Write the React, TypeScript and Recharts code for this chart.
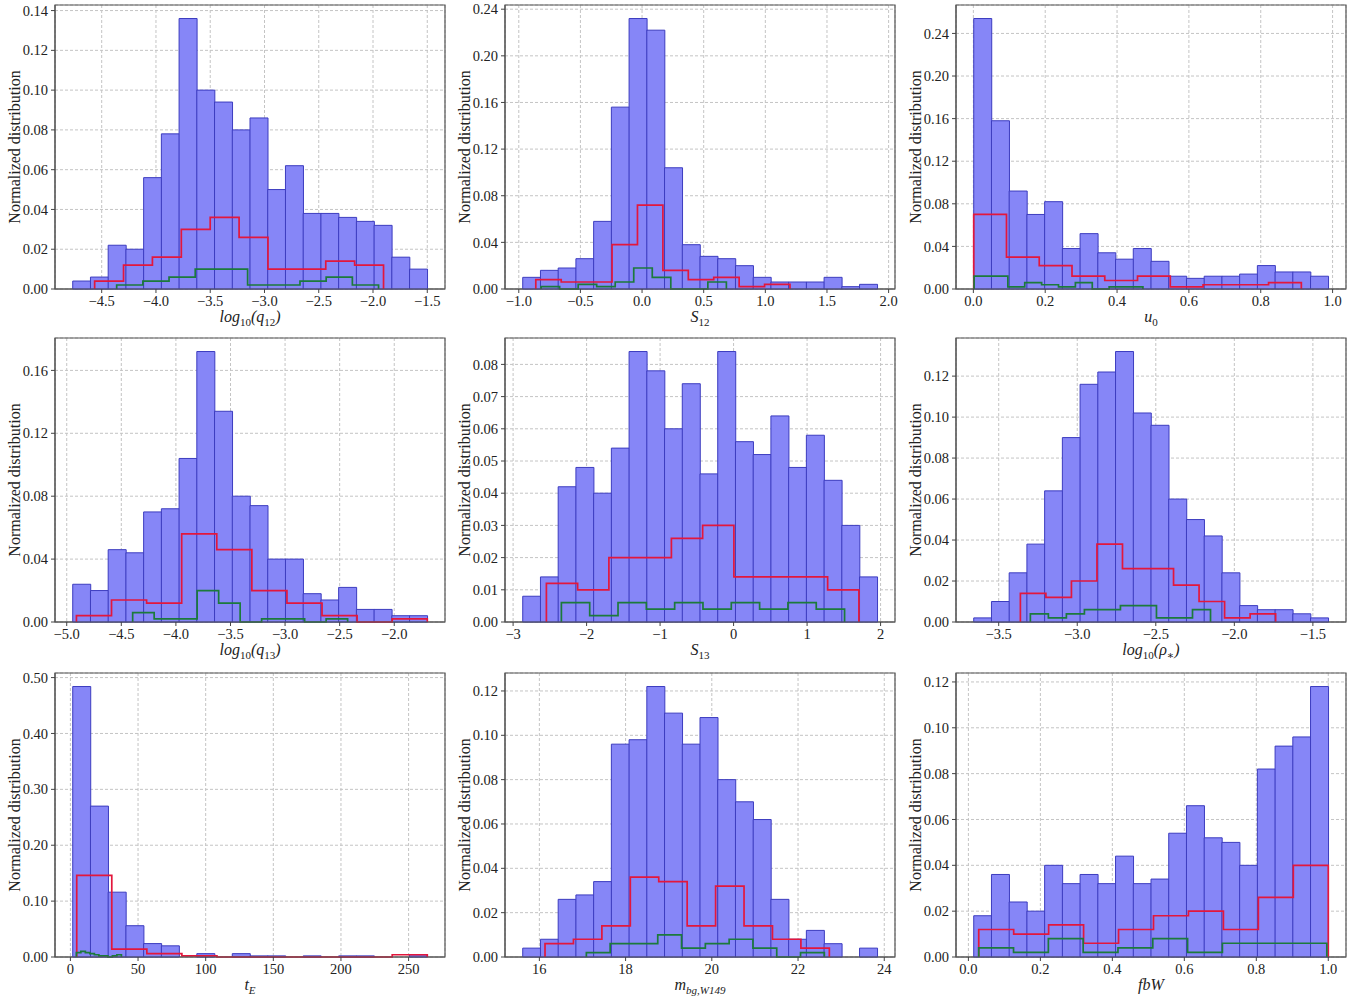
import { ComposedChart, Bar, Line, XAxis, YAxis, CartesianGrid, ReferenceArea } from 'recharts'

const SERIF = "'Liberation Serif', 'DejaVu Serif', serif"

// each histogram: bar heights + [first edge, last edge] of its bins
const q12All = [0.004, 0.006, 0.022, 0.02, 0.056, 0.078, 0.136, 0.1, 0.094, 0.08, 0.086, 0.05, 0.062, 0.038, 0.038, 0.036, 0.034, 0.032, 0.016, 0.01]
const q12AllRange = [-4.767, -1.5]
const q12Red = [0.004, 0.012, 0.016, 0.03, 0.036, 0.026, 0.01, 0.01, 0.014, 0.012]
const q12RedRange = [-4.565, -1.903]
const q12Green = [0.002, 0.004, 0.006, 0.01, 0.01, 0.002, 0.002, 0.004, 0.006, 0.002]
const q12GreenRange = [-4.362, -1.949]
const q12XTicks = [-4.5, -4.0, -3.5, -3.0, -2.5, -2.0, -1.5]
const q12YTicks = [0, 0.02, 0.04, 0.06, 0.08, 0.1, 0.12, 0.14]

const s12All = [0.01, 0.016, 0.018, 0.026, 0.058, 0.156, 0.232, 0.222, 0.104, 0.038, 0.028, 0.026, 0.02, 0.01, 0.006, 0.006, 0.006, 0.01, 0.002, 0.004]
const s12AllRange = [-0.968, 1.908]
const s12Red = [0.008, 0.006, 0.006, 0.038, 0.072, 0.016, 0.008, 0.01, 0.002, 0.004]
const s12RedRange = [-0.862, 1.2]
const s12Green = [0.002, 0, 0.004, 0.002, 0.006, 0.018, 0.01, 0, 0, 0.006]
const s12GreenRange = [-0.819, 0.684]
const s12XTicks = [-1.0, -0.5, 0.0, 0.5, 1.0, 1.5, 2.0]
const s12YTicks = [0, 0.04, 0.08, 0.12, 0.16, 0.2, 0.24]

const u0All = [0.254, 0.158, 0.092, 0.07, 0.082, 0.038, 0.052, 0.034, 0.028, 0.038, 0.026, 0.012, 0.01, 0.012, 0.012, 0.014, 0.022, 0.016, 0.016, 0.012]
const u0AllRange = [0.001, 0.988]
const u0Red = [0.07, 0.03, 0.022, 0.012, 0.008, 0.012, 0.002, 0.004, 0.004, 0.006]
const u0RedRange = [0.001, 0.913]
const u0Green = [0.012, 0.012, 0.002, 0.006, 0.004, 0.002, 0.006, 0, 0.002, 0.002]
const u0GreenRange = [0.002, 0.472]
const u0XTicks = [0.0, 0.2, 0.4, 0.6, 0.8, 1.0]
const u0YTicks = [0, 0.04, 0.08, 0.12, 0.16, 0.2, 0.24]

const q13All = [0.024, 0.02, 0.046, 0.044, 0.07, 0.072, 0.104, 0.172, 0.134, 0.08, 0.074, 0.04, 0.04, 0.018, 0.014, 0.022, 0.008, 0.008, 0.004, 0.004]
const q13AllRange = [-4.945, -1.6975]
const q13Red = [0.004, 0.014, 0.012, 0.056, 0.046, 0.02, 0.012, 0.004, 0, 0.002]
const q13RedRange = [-4.911, -1.6975]
const q13Green = [0.006, 0.002, 0.002, 0.02, 0.012, 0, 0.002, 0.002, 0, 0.002]
const q13GreenRange = [-4.396, -2.427]
const q13XTicks = [-5.0, -4.5, -4.0, -3.5, -3.0, -2.5, -2.0]
const q13YTicks = [0, 0.04, 0.08, 0.12, 0.16]

const s13All = [0.008, 0.014, 0.042, 0.048, 0.04, 0.054, 0.084, 0.078, 0.06, 0.074, 0.046, 0.084, 0.056, 0.052, 0.064, 0.048, 0.058, 0.044, 0.03, 0.014]
const s13AllRange = [-2.869, 1.955]
const s13Red = [0.012, 0.01, 0.02, 0.02, 0.026, 0.03, 0.014, 0.014, 0.014, 0.01]
const s13RedRange = [-2.547, 1.705]
const s13Green = [0.006, 0.002, 0.006, 0.004, 0.006, 0.004, 0.006, 0.004, 0.006, 0.004]
const s13GreenRange = [-2.343, 1.51]
const s13XTicks = [-3, -2, -1, 0, 1, 2]
const s13YTicks = [0, 0.01, 0.02, 0.03, 0.04, 0.05, 0.06, 0.07, 0.08]

const rhoAll = [0.002, 0.01, 0.024, 0.038, 0.064, 0.09, 0.116, 0.122, 0.132, 0.102, 0.096, 0.06, 0.05, 0.042, 0.024, 0.008, 0.006, 0.006, 0.004, 0.002]
const rhoAllRange = [-3.659, -1.402]
const rhoRed = [0.014, 0.012, 0.02, 0.038, 0.026, 0.026, 0.018, 0.01, 0.002, 0.004]
const rhoRedRange = [-3.362, -1.737]
const rhoGreen = [0.004, 0.002, 0.004, 0.006, 0.006, 0.008, 0.008, 0.002, 0.002, 0.006]
const rhoGreenRange = [-3.2985, -2.1516]
const rhoXTicks = [-3.5, -3.0, -2.5, -2.0, -1.5]
const rhoYTicks = [0, 0.02, 0.04, 0.06, 0.08, 0.1, 0.12]

const tEAll = [0.484, 0.27, 0.116, 0.056, 0.024, 0.02, 0, 0.006, 0, 0.006, 0.002, 0.002, 0, 0.002, 0, 0.002, 0.002, 0, 0, 0.004]
const tEAllRange = [1.72, 263.8]
const tERed = [0.146, 0.014, 0.006, 0.002, 0, 0, 0, 0, 0, 0.004]
const tERedRange = [4.68, 263.8]
const tEGreen = [0.008, 0.01, 0.008, 0.006, 0.004, 0.002, 0.002, 0, 0.002, 0.004]
const tEGreenRange = [4.4, 37.7]
const tEXTicks = [0, 50, 100, 150, 200, 250]
const tEYTicks = [0, 0.1, 0.2, 0.3, 0.4, 0.5]

const mbgAll = [0.004, 0.008, 0.026, 0.028, 0.034, 0.096, 0.098, 0.122, 0.11, 0.096, 0.108, 0.08, 0.07, 0.062, 0.026, 0.008, 0.012, 0.006, 0, 0.004]
const mbgAllRange = [15.614, 23.838]
const mbgRed = [0.006, 0.008, 0.014, 0.036, 0.034, 0.014, 0.032, 0.014, 0.008, 0.004]
const mbgRedRange = [16.131, 22.726]
const mbgGreen = [0.002, 0.006, 0.006, 0.01, 0.004, 0.006, 0.008, 0.004, 0, 0.002]
const mbgGreenRange = [17.09, 22.61]
const mbgXTicks = [16, 18, 20, 22, 24]
const mbgYTicks = [0, 0.02, 0.04, 0.06, 0.08, 0.1, 0.12]

const fbwAll = [0.018, 0.036, 0.024, 0.02, 0.04, 0.032, 0.036, 0.032, 0.044, 0.032, 0.034, 0.054, 0.066, 0.052, 0.05, 0.04, 0.082, 0.092, 0.096, 0.118]
const fbwAllRange = [0.0148, 1.0]
const fbwRed = [0.012, 0.01, 0.014, 0.006, 0.012, 0.018, 0.02, 0.012, 0.026, 0.04]
const fbwRedRange = [0.0287, 1.0]
const fbwGreen = [0.004, 0.002, 0.008, 0.002, 0.004, 0.008, 0.002, 0.006, 0.006, 0.006]
const fbwGreenRange = [0.0287, 0.996]
const fbwXTicks = [0.0, 0.2, 0.4, 0.6, 0.8, 1.0]
const fbwYTicks = [0, 0.02, 0.04, 0.06, 0.08, 0.1, 0.12]

// axis titles: [text, style] with i = italic, s = subscript, si = italic subscript
type Part = [string, string]
const q12Label: Part[] = [['log', 'i'], ['10', 's'], ['(', 'i'], ['q', 'i'], ['12', 's'], [')', 'i']]
const s12Label: Part[] = [['S', 'i'], ['12', 's']]
const u0Label: Part[] = [['u', 'i'], ['0', 's']]
const q13Label: Part[] = [['log', 'i'], ['10', 's'], ['(', 'i'], ['q', 'i'], ['13', 's'], [')', 'i']]
const s13Label: Part[] = [['S', 'i'], ['13', 's']]
const rhoLabel: Part[] = [['log', 'i'], ['10', 's'], ['(ρ', 'i'], ['∗', 's'], [')', 'i']]
const tELabel: Part[] = [['t', 'i'], ['E', 'si']]
const mbgLabel: Part[] = [['m', 'i'], ['bg,W149', 'si']]
const fbwLabel: Part[] = [['fbW', 'i']]

const panels = [
  { all: q12All, allRange: q12AllRange, red: q12Red, redRange: q12RedRange, green: q12Green, greenRange: q12GreenRange, xTicks: q12XTicks, yTicks: q12YTicks, digits: 1, label: q12Label },
  { all: s12All, allRange: s12AllRange, red: s12Red, redRange: s12RedRange, green: s12Green, greenRange: s12GreenRange, xTicks: s12XTicks, yTicks: s12YTicks, digits: 1, label: s12Label },
  { all: u0All, allRange: u0AllRange, red: u0Red, redRange: u0RedRange, green: u0Green, greenRange: u0GreenRange, xTicks: u0XTicks, yTicks: u0YTicks, digits: 1, label: u0Label },
  { all: q13All, allRange: q13AllRange, red: q13Red, redRange: q13RedRange, green: q13Green, greenRange: q13GreenRange, xTicks: q13XTicks, yTicks: q13YTicks, digits: 1, label: q13Label },
  { all: s13All, allRange: s13AllRange, red: s13Red, redRange: s13RedRange, green: s13Green, greenRange: s13GreenRange, xTicks: s13XTicks, yTicks: s13YTicks, digits: 0, label: s13Label },
  { all: rhoAll, allRange: rhoAllRange, red: rhoRed, redRange: rhoRedRange, green: rhoGreen, greenRange: rhoGreenRange, xTicks: rhoXTicks, yTicks: rhoYTicks, digits: 1, label: rhoLabel },
  { all: tEAll, allRange: tEAllRange, red: tERed, redRange: tERedRange, green: tEGreen, greenRange: tEGreenRange, xTicks: tEXTicks, yTicks: tEYTicks, digits: 0, label: tELabel },
  { all: mbgAll, allRange: mbgAllRange, red: mbgRed, redRange: mbgRedRange, green: mbgGreen, greenRange: mbgGreenRange, xTicks: mbgXTicks, yTicks: mbgYTicks, digits: 0, label: mbgLabel },
  { all: fbwAll, allRange: fbwAllRange, red: fbwRed, redRange: fbwRedRange, green: fbwGreen, greenRange: fbwGreenRange, xTicks: fbwXTicks, yTicks: fbwYTicks, digits: 1, label: fbwLabel },
]

type Panel = (typeof panels)[number]

const COLS = [0, 450, 901]
const ROWS = [0, 333, 668]

const toBins = (range: number[], values: number[]) => {
  const w = (range[1] - range[0]) / values.length
  return values.map((y, i) => ({ x: range[0] + w * (i + 0.5), y }))
}

// outline points for a matplotlib-style 'step' histogram
const toSteps = (range: number[], values: number[]) => {
  const w = (range[1] - range[0]) / values.length
  const pts = [{ x: range[0], y: 0 }]
  values.forEach((y, i) => pts.push({ x: range[0] + w * i, y }))
  pts.push({ x: range[1], y: 0 })
  return pts
}

const minus = (s: string) => s.replace('-', '\u2212')

function XTitle({ viewBox, parts }: any) {
  const vb = viewBox || { x: 55, y: 289, width: 390 }
  let cur = 0
  return (
    <text x={vb.x + vb.width / 2} y={vb.y + 33} textAnchor="middle" fontFamily={SERIF} fontSize={16} fill="#222">
      {parts.map(([t, k]: Part, i: number) => {
        const sub = k === 's' || k === 'si'
        const target = sub ? 4 : 0
        const dy = target - cur
        cur = target
        return (
          <tspan key={i} dy={dy} fontSize={sub ? 11 : 16} fontStyle={k === 's' ? 'normal' : 'italic'}>
            {t}
          </tspan>
        )
      })}
    </text>
  )
}

function YTitle({ viewBox }: any) {
  const vb = viewBox || { x: 5, y: 5, height: 284 }
  const x = vb.x + 9
  const y = vb.y + vb.height / 2
  return (
    <text x={x} y={y} transform={`rotate(-90, ${x}, ${y})`} textAnchor="middle" dominantBaseline="central" fontFamily={SERIF} fontSize={16} fill="#222">
      Normalized distribution
    </text>
  )
}

function HistPanel({ p }: { p: Panel }) {
  const bins = toBins(p.allRange, p.all)
  const red = toSteps(p.redRange, p.red)
  const green = toSteps(p.greenRange, p.green)
  const span = p.allRange[1] - p.allRange[0]
  const xDomain = [p.allRange[0] - span * 0.05, p.allRange[1] + span * 0.05]
  const yTop = Math.max(...p.all) * 1.05
  const tickStyle = { fill: '#222', fontSize: 14.5, fontFamily: SERIF }

  return (
    <ComposedChart width={450} height={330} data={bins} margin={{ top: 5, right: 5, bottom: 0, left: 5 }} barCategoryGap={0} barGap={0}>
      <CartesianGrid stroke="#c4c4c4" strokeDasharray="3 2" />
      <XAxis xAxisId="bins" type="number" dataKey="x" domain={xDomain} hide />
      <XAxis
        type="number"
        dataKey="x"
        domain={xDomain}
        ticks={p.xTicks}
        interval={0}
        tickFormatter={(v: number) => minus(v.toFixed(p.digits))}
        height={41}
        axisLine={{ stroke: '#555' }}
        tickLine={{ stroke: '#444' }}
        tickSize={4}
        tickMargin={3}
        tick={tickStyle}
        label={(props: any) => <XTitle viewBox={props.viewBox} parts={p.label} />}
      />
      <YAxis
        type="number"
        domain={[0, yTop]}
        ticks={p.yTicks}
        interval={0}
        tickFormatter={(v: number) => v.toFixed(2)}
        width={50}
        axisLine={{ stroke: '#555' }}
        tickLine={{ stroke: '#444' }}
        tickSize={4}
        tickMargin={3}
        tick={tickStyle}
        label={(props: any) => <YTitle viewBox={props.viewBox} />}
      />
      <Bar xAxisId="bins" dataKey="y" fill="#8686f7" stroke="#3c3cbf" strokeWidth={1} isAnimationActive={false} />
      <Line data={red} dataKey="y" type="stepAfter" stroke="#e3173c" strokeWidth={1.7} dot={false} activeDot={false} isAnimationActive={false} />
      <Line data={green} dataKey="y" type="stepAfter" stroke="#1c7a3b" strokeWidth={1.7} dot={false} activeDot={false} isAnimationActive={false} />
      <ReferenceArea x1={xDomain[0]} x2={xDomain[1]} y1={0} y2={yTop} fill="none" stroke="#555" strokeWidth={1.2} ifOverflow="visible" />
    </ComposedChart>
  )
}

export default function App() {
  return (
    <div style={{ position: 'fixed', left: 0, top: 0, width: 1364, height: 996, background: '#fff', overflow: 'hidden' }}>
      {panels.map((p, i) => (
        <div key={i} style={{ position: 'absolute', left: COLS[i % 3], top: ROWS[Math.floor(i / 3)] }}>
          <HistPanel p={p} />
        </div>
      ))}
    </div>
  )
}
